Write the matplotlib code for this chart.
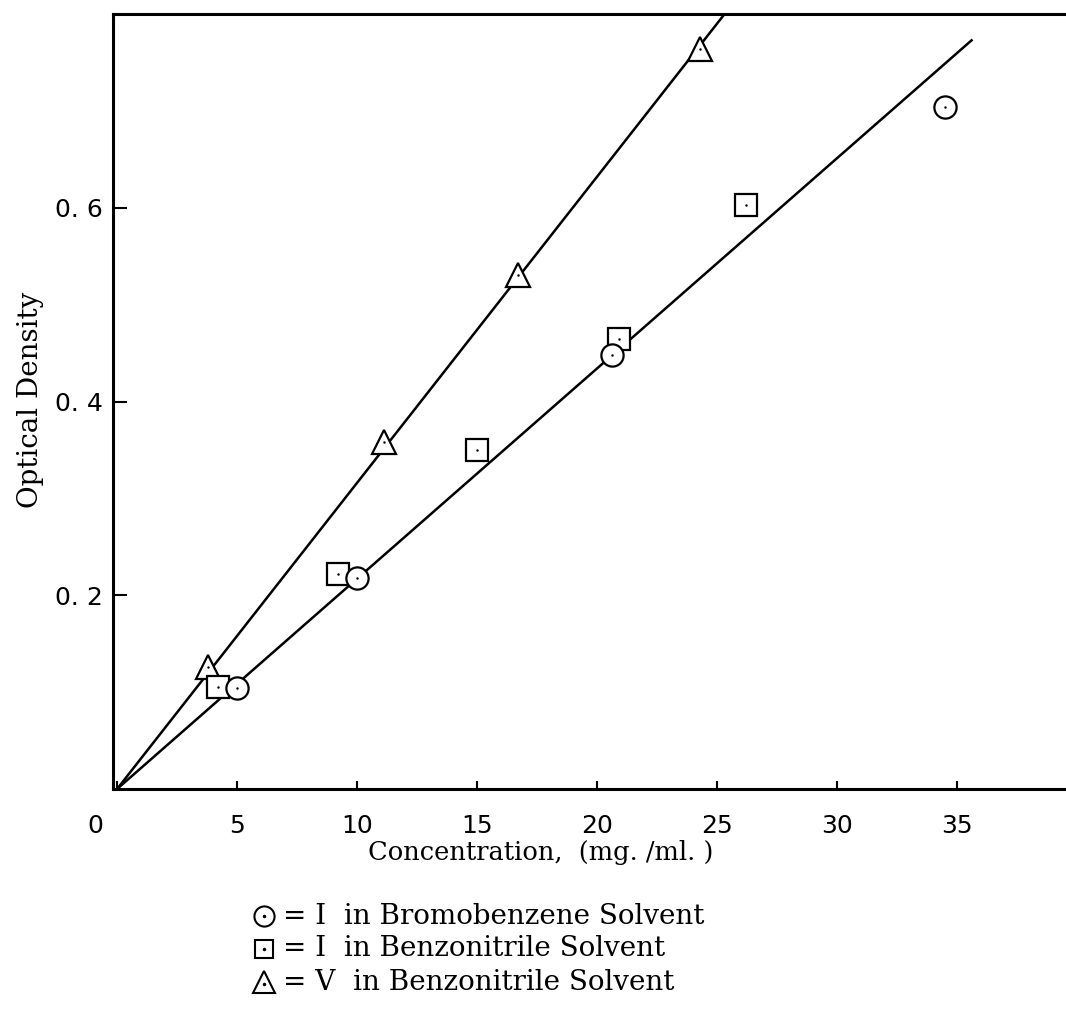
""" Optical density vs concentration for compounds I and V in two solvents. """

import matplotlib.pyplot as plt
from matplotlib.lines import Line2D
from matplotlib.transforms import ScaledTranslation

brom_I_conc = [5.0, 10.0, 20.6, 34.5]
brom_I_od = [0.104, 0.218, 0.448, 0.704]

benz_I_conc = [4.2, 9.2, 15.0, 20.9, 26.2]
benz_I_od = [0.105, 0.222, 0.350, 0.465, 0.603]

benz_V_conc = [3.8, 11.1, 16.7, 24.3]
benz_V_od = [0.126, 0.358, 0.531, 0.764]

# Hand drawn fit lines through the origin
fit_I_conc = [0.0, 35.6]
fit_I_od = [0.0, 0.773]
fit_V_conc = [0.0, 25.4]
fit_V_od = [0.0, 0.803]

x_ticks = [0, 5, 10, 15, 20, 25, 30, 35]
x_labels = ["0", "5", "10", "15", "20", "25", "30", "35"]
y_ticks = [0.2, 0.4, 0.6]
y_labels = ["0. 2", "0. 4", "0. 6"]

legend_markers = ["o", "s", "^"]
legend_texts = [
    "= I  in Bromobenzene Solvent",
    "= I  in Benzonitrile Solvent",
    "= V  in Benzonitrile Solvent",
]

plt.rcParams["font.family"] = ["DejaVu Serif", "DejaVu Sans"]

fig = plt.figure(figsize=(10.66, 10.11), dpi=100)
ax = fig.add_axes([0.106, 0.2196, 0.8955, 0.7664])

# Fit lines
ax.plot(fit_I_conc, fit_I_od, color="black", lw=1.8, zorder=2)
ax.plot(fit_V_conc, fit_V_od, color="black", lw=1.8, zorder=2)

# Open markers with a small centre dot
mk = dict(ls="none", mfc="white", mec="black", mew=1.6, zorder=3)
ax.plot(benz_V_conc, benz_V_od, marker="^", ms=17, **mk)
ax.plot(benz_I_conc, benz_I_od, marker="s", ms=15.5, **mk)
ax.plot(brom_I_conc, brom_I_od, marker="o", ms=16, **mk)
for xs, ys in [(benz_V_conc, benz_V_od), (benz_I_conc, benz_I_od), (brom_I_conc, brom_I_od)]:
    ax.plot(xs, ys, ls="none", marker=".", ms=1.5, color="black", zorder=4)

ax.set_xlim(-0.17, 39.6)
ax.set_ylim(0, 0.8)

ax.set_xticks(x_ticks)
ax.set_xticklabels(x_labels, family="DejaVu Sans", fontsize=18)
ax.set_yticks(y_ticks)
ax.set_yticklabels(y_labels, family="DejaVu Sans", fontsize=18)
ax.tick_params(axis="x", direction="in", length=6, width=1.5, pad=18)
ax.tick_params(axis="y", direction="in", length=10, width=1.5, pad=7)

# the "0" sits left of the origin in the original
zero = ax.get_xticklabels()[0]
zero.set_transform(zero.get_transform() + ScaledTranslation(-22 / 100, 0, fig.dpi_scale_trans))

for side in ["left", "top", "bottom"]:
    ax.spines[side].set_linewidth(2.2)
ax.spines["right"].set_visible(False)

ax.set_xlabel("Concentration,  (mg. /ml. )", fontsize=18.5)
ax.xaxis.set_label_coords(0.448, -0.066)
ax.set_ylabel("Optical Density", fontsize=20)
ax.yaxis.set_label_coords(-0.072, 0.502)

# Key below the plot: symbol, then its meaning
for i, (m, txt) in enumerate(zip(legend_markers, legend_texts)):
    yf = 1 - (916 + 33 * i) / 1011
    sym = dict(o=14.5, s=13.5, **{"^": 16})[m]
    fig.add_artist(Line2D([264 / 1066], [yf], transform=fig.transFigure, marker=m, ms=sym,
                          mfc="white", mec="black", mew=1.5, ls="none"))
    fig.add_artist(Line2D([264 / 1066], [yf - (0.0015 if m == "^" else 0)], transform=fig.transFigure,
                          marker=".", ms=3, color="black", ls="none"))
    fig.text(283 / 1066, yf, txt, fontsize=20, va="center", ha="left")

plt.savefig("out.png", dpi=100)
